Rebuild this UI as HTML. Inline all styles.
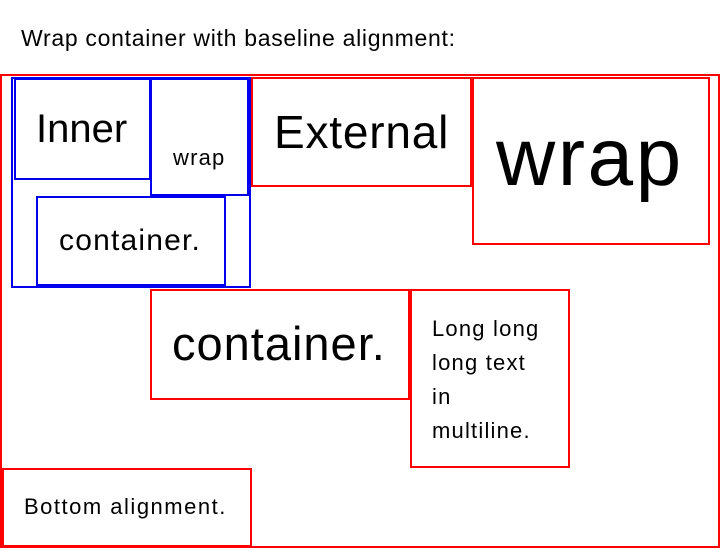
<!DOCTYPE html>
<html><head><style>
body{margin:0;width:720px;height:548px;position:relative;background:#fff;font-family:"Liberation Sans",Arial,sans-serif;color:#000;overflow:hidden}
.b{position:absolute;box-sizing:border-box;border:2px solid red}
.u{border-color:#0000ee}
.t{position:absolute;white-space:nowrap;line-height:1}
</style></head><body>
<div class="t" style="left:21px;top:27px;font-size:23px;letter-spacing:0.7px">Wrap container with baseline alignment:</div>
<div class="b" style="left:0;top:74px;width:720px;height:474px"></div>
<div class="b u" style="left:11px;top:77px;width:240px;height:211px"></div>
<div class="b u" style="left:14px;top:78px;width:137px;height:102px"></div>
<div class="b u" style="left:150px;top:78px;width:99px;height:118px"></div>
<div class="b u" style="left:36px;top:196px;width:190px;height:90px"></div>
<div class="b" style="left:251px;top:77px;width:221px;height:110px"></div>
<div class="b" style="left:472px;top:77px;width:238px;height:168px"></div>
<div class="b" style="left:150px;top:289px;width:260px;height:111px"></div>
<div class="b" style="left:410px;top:289px;width:160px;height:179px"></div>
<div class="b" style="left:2px;top:468px;width:250px;height:79px"></div>
<div class="t" style="left:36px;top:109px;font-size:40px">Inner</div>
<div class="t" style="left:173px;top:147px;font-size:22px;letter-spacing:1.2px">wrap</div>
<div class="t" style="left:59px;top:226px;font-size:30px;letter-spacing:1.2px">container.</div>
<div class="t" style="left:274px;top:109px;font-size:46px;letter-spacing:0.8px">External</div>
<div class="t" style="left:496px;top:117px;font-size:82px;letter-spacing:2.5px">wrap</div>
<div class="t" style="left:172px;top:320px;font-size:47px;letter-spacing:1px">container.</div>
<div class="t" style="left:432px;top:312px;font-size:22px;line-height:34px;letter-spacing:1.2px">Long long<br>long text<br>in<br>multiline.</div>
<div class="t" style="left:24px;top:496px;font-size:22px;letter-spacing:1.5px">Bottom alignment.</div>
</body></html>
